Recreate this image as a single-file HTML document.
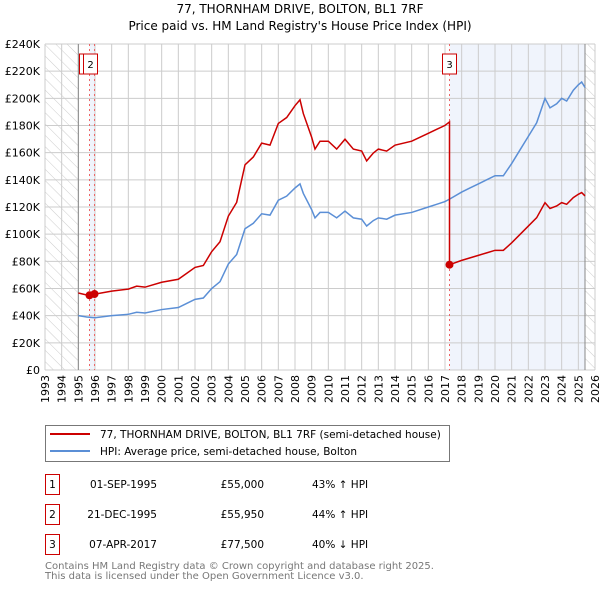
<!DOCTYPE html>
<html><head><meta charset="utf-8"><style>
body{margin:0;background:#fff;}
svg text{font-family:"DejaVu Sans","Liberation Sans",sans-serif;}
</style></head><body>
<svg id="c" width="600" height="590" xmlns="http://www.w3.org/2000/svg">
<defs>
<pattern id="hatch" width="8" height="8" patternUnits="userSpaceOnUse" patternTransform="rotate(-45)">
<line x1="0" y1="0" x2="0" y2="8" stroke="#ccc" stroke-width="1"/>
</pattern>
</defs>
<text x="300" y="13" text-anchor="middle" font-size="12">77, THORNHAM DRIVE, BOLTON, BL1 7RF</text>
<text x="300" y="30" text-anchor="middle" font-size="12">Price paid vs. HM Land Registry's House Price Index (HPI)</text>
<g id="plot"></g>
<g>
<rect x="45.5" y="425.5" width="404" height="36" fill="#fff" stroke="#777"/>
<line x1="50" y1="434" x2="90" y2="434" stroke="#cc0000" stroke-width="2"/>
<text x="100" y="438" font-size="10.5">77, THORNHAM DRIVE, BOLTON, BL1 7RF (semi-detached house)</text>
<line x1="50" y1="451" x2="90" y2="451" stroke="#5b8fd6" stroke-width="2"/>
<text x="100" y="455" font-size="10.5">HPI: Average price, semi-detached house, Bolton</text>
</g>
<g id="tbl" font-size="10.5"></g>
<text x="45" y="569" font-size="10" fill="#777">Contains HM Land Registry data © Crown copyright and database right 2025.</text>
<text x="45" y="579" font-size="10" fill="#777">This data is licensed under the Open Government Licence v3.0.</text>
</svg>
<script>
const hpiYears=[1995,1995.5,1996,1997,1998,1998.5,1999,2000,2001,2001.5,2002,2002.5,2003,2003.5,2004,2004.5,2005,2005.5,2006,2006.5,2007,2007.5,2008,2008.3,2008.5,2009,2009.2,2009.5,2010,2010.5,2011,2011.5,2012,2012.3,2012.7,2013,2013.5,2014,2015,2016,2016.5,2017,2017.3,2018,2018.5,2019,2019.5,2020,2020.5,2021,2021.5,2022,2022.5,2023,2023.3,2023.7,2024,2024.3,2024.7,2025,2025.2,2025.4];
const hpiValues=[40,39,38.5,40,41,42.5,42,44.5,46,49,52,53,60,65,78,85,104,108,115,114,125,128,134,137,130,118,112,116,116,112,117,112,111,106,110,112,111,114,116,120,122,124,126,131,134,137,140,143,143,152,162,172,182,200,193,196,200,198,206,210,212,208];
const saleDates=[1995.67,1995.97,2017.27];
const salePrices=[55000,55950,77500];
const saleLabels=["1","2","3"];
const saleDateText=["01-SEP-1995","21-DEC-1995","07-APR-2017"];
const salePriceText=["£55,000","£55,950","£77,500"];
const saleHpiText=["43% ↑ HPI","44% ↑ HPI","40% ↓ HPI"];
const yTicks=[0,20,40,60,80,100,120,140,160,180,200,220,240];
const xTicks=[1993,1994,1995,1996,1997,1998,1999,2000,2001,2002,2003,2004,2005,2006,2007,2008,2009,2010,2011,2012,2013,2014,2015,2016,2017,2018,2019,2020,2021,2022,2023,2024,2025,2026];

const NS="http://www.w3.org/2000/svg";
const L=45,R=595,T=44,B=370;
const x=y=>L+(y-1993)*(R-L)/33;
const yv=v=>B-v*(B-T)/240;
function mk(tag,at,parent){const e=document.createElementNS(NS,tag);for(const k in at)e.setAttribute(k,at[k]);parent.appendChild(e);return e;}
const g=document.getElementById('plot');
function hpiAt(t){for(let i=0;i<hpiYears.length-1;i++){if(t>=hpiYears[i]&&t<=hpiYears[i+1]){const f=(t-hpiYears[i])/(hpiYears[i+1]-hpiYears[i]);return hpiValues[i]+f*(hpiValues[i+1]-hpiValues[i]);}}return hpiValues[hpiValues.length-1];}
const endYear=hpiYears[hpiYears.length-1];
let e=mk('rect',{x:x(saleDates[2]),y:T,width:x(endYear)-x(saleDates[2]),height:B-T,fill:'#f0f4fc'},g);

e=mk('rect',{x:x(saleDates[0]),y:T,width:x(saleDates[1])-x(saleDates[0]),height:B-T,fill:'#f0f4fc'},g);

e=mk('rect',{x:L,y:T,width:x(1995)-L,height:B-T,fill:'url(#hatch)'},g);

e=mk('rect',{x:x(endYear),y:T,width:R-x(endYear),height:B-T,fill:'url(#hatch)'},g);

yTicks.forEach(v=>{
 let l=mk('line',{x1:L,x2:R,y1:yv(v),y2:yv(v),stroke:'#ccc','stroke-width':1},g);
 
 let t=mk('text',{x:L-5,y:yv(v)+4,'text-anchor':'end','font-size':11},g);t.textContent=v===0?'£0':'£'+v+'K';
 
});
xTicks.forEach(yr=>{
 let l=mk('line',{x1:x(yr),x2:x(yr),y1:T,y2:B,stroke:'#ccc','stroke-width':1},g);
 
 let t=mk('text',{x:x(yr)+4,y:B+5,'text-anchor':'end','font-size':11,transform:`rotate(-90 ${x(yr)+4} ${B+5})`},g);t.textContent=yr;
 
});
e=mk('line',{x1:x(1995),x2:x(1995),y1:T,y2:B,stroke:'#888'},g);

e=mk('line',{x1:x(endYear),x2:x(endYear),y1:T,y2:B,stroke:'#888'},g);

saleDates.forEach((d,i)=>{
 let l=mk('line',{x1:x(d),x2:x(d),y1:T,y2:B,stroke:'#e66','stroke-dasharray':'2,3'},g);
 
});
let pts=hpiYears.map((t,i)=>x(t)+','+yv(hpiValues[i])).join(' ');
e=mk('polyline',{points:pts,fill:'none',stroke:'#5b8fd6','stroke-width':1.5},g);

let rp=[];
hpiYears.forEach((t,i)=>{
 let idx=-1;for(let k=0;k<saleDates.length;k++)if(saleDates[k]<=t)idx=k;
 if(t<saleDates[0])idx=0;
 if(saleDates[2]>hpiYears[i-1]&&saleDates[2]<=t){rp.push([saleDates[2],salePrices[1]/1000*hpiAt(saleDates[2])/hpiAt(saleDates[1])]);rp.push([saleDates[2],salePrices[2]/1000]);}
 if(saleDates[1]>(hpiYears[i-1]||0)&&saleDates[1]<=t){rp.push([saleDates[1],salePrices[1]/1000]);}
 rp.push([t,salePrices[idx]/1000*hpiValues[i]/hpiAt(saleDates[idx])]);
});
e=mk('polyline',{points:rp.map(p=>x(p[0])+','+yv(p[1])).join(' '),fill:'none',stroke:'#cc0000','stroke-width':1.5},g);

saleDates.forEach((d,i)=>{
 let c=mk('circle',{cx:x(d),cy:yv(salePrices[i]/1000),r:4,fill:'#cc0000'},g);
 
});
saleDates.forEach((d,i)=>{
 let bx=x(d)-(i===0?10:i===1?11:7);
 let r=mk('rect',{x:bx,y:54,width:14,height:20,fill:'#fff',stroke:'#cc0000'},g);
 
 let t=mk('text',{x:bx+7,y:68,'text-anchor':'middle','font-size':10},g);t.textContent=saleLabels[i];
 
});
const tb=document.getElementById('tbl');
const rowY=[482,512,542];
saleLabels.forEach((lab,i)=>{
 const y0=rowY[i];
 let r=mk('rect',{x:45.5,y:y0-7.5,width:14,height:20,fill:'#fff',stroke:'#cc0000'},tb);
 
 let t=mk('text',{x:52.5,y:y0+6,'text-anchor':'middle'},tb);t.textContent=lab;
 
 t=mk('text',{x:157,y:y0+6,'text-anchor':'end'},tb);t.textContent=saleDateText[i];
 
 t=mk('text',{x:264,y:y0+6,'text-anchor':'end'},tb);t.textContent=salePriceText[i];
 
 t=mk('text',{x:312,y:y0+6},tb);t.textContent=saleHpiText[i];
 
});
</script>
</body></html>
